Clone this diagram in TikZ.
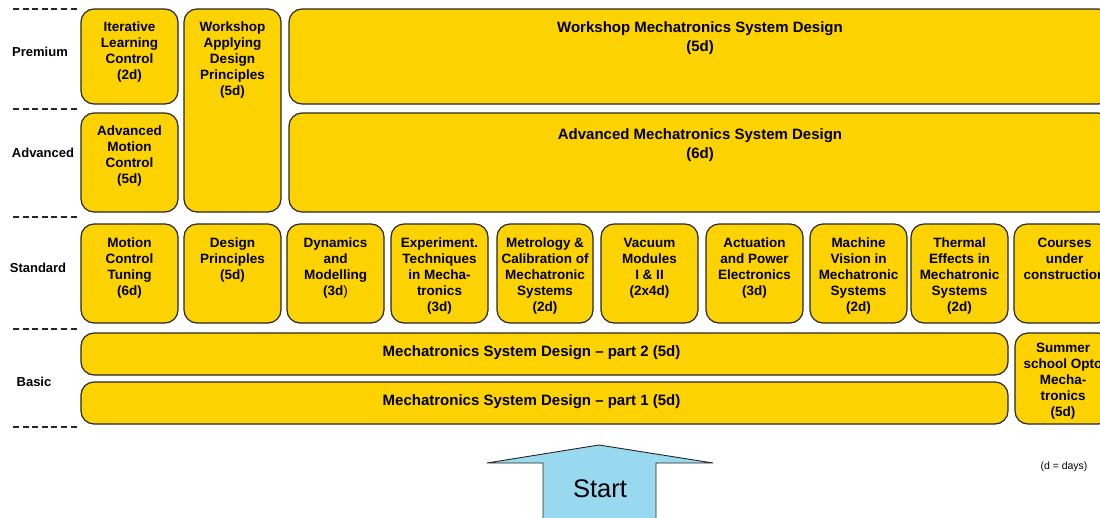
\documentclass[tikz,border=0pt]{standalone}
\usepackage{fontspec}
\setmainfont{Liberation Sans}
\definecolor{boxyellow}{RGB}{252,210,0}
\definecolor{startblue}{RGB}{153,217,240}
\newcommand{\bx}[5]{\node[box, minimum width={#4-#2}, minimum height={#5-#3}] (#1) at ({(#2+#4)/2},{(#3+#5)/2}) {};}
\begin{document}
\begin{tikzpicture}[x=1pt,y=-1pt,
  box/.style={draw=black!85, line width=1.2pt, fill=boxyellow, rounded corners=13pt, inner sep=0pt, outer sep=0pt},
  txt/.style={font=\fontsize{13.5}{16}\selectfont\bfseries, align=center, inner sep=0pt, anchor=north},
  bigtxt/.style={font=\fontsize{15}{19}\selectfont\bfseries, align=center, inner sep=0pt},
  rowlbl/.style={font=\fontsize{13}{16}\selectfont\bfseries, inner sep=0pt},
  sep/.style={line width=1.2pt, dash pattern=on 6pt off 3.6pt, black!85}]
\useasboundingbox (0,0) rectangle (1100,517);
\clip (0,0) rectangle (1100,517);
% separators
\foreach \yy [count=\i] in {9,109,217,329,427} {
  \coordinate (sl\i) at (13,\yy);
  \coordinate (sr\i) at (78,\yy);
  \draw[sep] (sl\i) -- (sr\i);
}
% row labels
\node[rowlbl] (lpre) at (40,52) {Premium};
\node[rowlbl] (ladv) at (43,153) {Advanced};
\node[rowlbl] (lstd) at (38,268) {Standard};
\node[rowlbl] (lbas) at (34,382) {Basic};
% premium / advanced
\bx{ilc}{81}{9}{178}{104}
\bx{wadp}{184}{9}{281}{212}
\bx{amc}{81}{113}{178}{212}
\bx{wmsd}{289}{9}{1111}{104}
\bx{amsd}{289}{113}{1111}{212}
\node[txt] (tilc) at ([yshift=-13pt]ilc.north) {Iterative\\Learning\\Control\\(2d)};
\node[txt] (twadp) at ([yshift=-13pt]wadp.north) {Workshop\\Applying\\Design\\Principles\\(5d)};
\node[txt] (tamc) at ([yshift=-13pt]amc.north) {Advanced\\Motion\\Control\\(5d)};
\node[bigtxt, anchor=north] (twmsd) at ([yshift=-12pt]wmsd.north) {Workshop Mechatronics System Design\\(5d)};
\node[bigtxt, anchor=north] (tamsd) at ([yshift=-15pt]amsd.north) {Advanced Mechatronics System Design\\(6d)};
% standard
\bx{mct}{81}{224}{178}{323}
\bx{dp}{184}{224}{281}{323}
\bx{dm}{287}{224}{384}{323}
\bx{et}{391}{224}{488}{323}
\bx{mc}{497}{224}{593}{323}
\bx{vm}{601}{224}{698}{323}
\bx{ape}{706}{224}{803}{323}
\bx{mv}{810}{224}{907}{323}
\bx{te}{911}{224}{1008}{323}
\bx{cuc}{1014}{224}{1111}{323}
\node[txt] (tmct) at ([yshift=-14pt]mct.north) {Motion\\Control\\Tuning\\(6d)};
\node[txt] (tdp) at ([yshift=-14pt]dp.north) {Design\\Principles\\(5d)};
\node[txt] (tdm) at ([yshift=-14pt]dm.north) {Dynamics\\and\\Modelling\\(3d{\mdseries)}};
\node[txt] (tet) at ([yshift=-14pt]et.north) {Experiment.\\Techniques\\in Mecha-\\tronics\\(3d)};
\node[txt] (tmc) at ([yshift=-14pt]mc.north) {Metrology \&\\Calibration of\\Mechatronic\\Systems\\(2d)};
\node[txt] (tvm) at ([yshift=-14pt]vm.north) {Vacuum\\Modules\\I \& II\\(2x4d)};
\node[txt] (tape) at ([yshift=-14pt]ape.north) {Actuation\\and Power\\Electronics\\(3d)};
\node[txt] (tmv) at ([yshift=-14pt]mv.north) {Machine\\Vision in\\Mechatronic\\Systems\\(2d)};
\node[txt] (tte) at ([yshift=-14pt]te.north) {Thermal\\Effects in\\Mechatronic\\Systems\\(2d)};
\node[txt] (tcuc) at ([yshift=-14pt,xshift=2pt]cuc.north) {Courses\\under\\construction};
% basic
\bx{msd2}{81}{333}{1008}{375}
\bx{msd1}{81}{382}{1008}{424}
\bx{sso}{1015}{333}{1111}{424}
\node[bigtxt] (tmsd2) at ([xshift=-13pt,yshift=1pt]msd2.center) {Mechatronics System Design – part 2 (5d)};
\node[bigtxt] (tmsd1) at ([xshift=-13pt,yshift=1pt]msd1.center) {Mechatronics System Design – part 1 (5d)};
\node[txt] (tsso) at ([yshift=-10pt]sso.north) {Summer\\school Opto\\Mecha-\\tronics\\(5d)};
% start arrow
\draw[black!85, line width=0.9pt, fill=startblue]
  (543,530) -- (543,463) -- (487,463) -- (599,445) -- (713,463) -- (656,463) -- (656,530);
\node[font=\fontsize{25.5}{30}\selectfont, inner sep=0pt] (start) at (600,489) {Start};
\node[font=\fontsize{10.5}{13}\selectfont, inner sep=0pt] (days) at (1064,467) {(d = days)};
\end{tikzpicture}
\end{document}
